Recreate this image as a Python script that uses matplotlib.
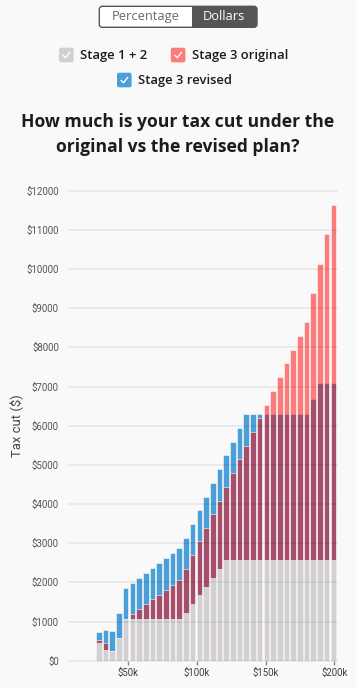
import matplotlib
matplotlib.use("Agg")
import matplotlib.pyplot as plt
from matplotlib.patches import FancyBboxPatch, Rectangle
import numpy as np

# ---------------- data ----------------
incomes_k = [25, 30, 35, 40, 45, 50, 55, 60, 65, 70, 75, 80, 85, 90, 95, 100,
             105, 110, 115, 120, 125, 130, 135, 140, 145, 150, 155, 160, 165,
             170, 175, 180, 185, 190, 195, 200]
stage12 = [460, 273, 247, 571, 1064, 1064, 1064, 1064, 1064, 1064, 1064, 1064,
           1064, 1210, 1447, 1670, 1882, 2111, 2333, 2565, 2565, 2565, 2565,
           2565, 2565, 2565, 2565, 2565, 2565, 2565, 2565, 2565, 2565, 2565,
           2565, 2565]
stage3_original = [528, 452, 247, 571, 1064, 1189, 1314, 1439, 1564, 1689, 1814,
                   1939, 2064, 2335, 2697, 3045, 3382, 3736, 4083, 4440, 4790,
                   5140, 5490, 5840, 6190, 6540, 6890, 7240, 7590, 7940, 8290,
                   8640, 9390, 10140, 10890, 11640]
stage3_revised = [730, 791, 758, 1217, 1868, 1993, 2118, 2243, 2368, 2493, 2618,
                  2743, 2868, 3139, 3501, 3849, 4186, 4540, 4887, 5244, 5594,
                  5944, 6294, 6294, 6294, 6294, 6294, 6294, 6294, 6294, 6294,
                  6294, 6694, 7094, 7094, 7094]
y_ticks = [0, 1000, 2000, 3000, 4000, 5000, 6000, 7000, 8000, 9000, 10000, 11000, 12000]
y_tick_labels = ["$0", "$1000", "$2000", "$3000", "$4000", "$5000", "$6000",
                 "$7000", "$8000", "$9000", "$10000", "$11000", "$12000"]
x_ticks_k = [50, 100, 150, 200]
x_tick_labels = ["$50k", "$100k", "$150k", "$200k"]
legend_labels = ["Stage 1 + 2", "Stage 3 original", "Stage 3 revised"]
toggle_labels = ["Percentage", "Dollars"]
title_lines = ["How much is your tax cut under the", "original vs the revised plan?"]
y_label = "Tax cut ($)"

# ---------------- style ----------------
W, H, DPI = 356, 688, 100
BG = "#f9f9f9"
GREY = "#d1d1d4"
RED = (1.0, 0.0, 0.0, 0.5)
BLUE = "#4a9fd8"
TXT = "#1c1c1c"
TICK = "#555555"
FONT = ["Open Sans", "DejaVu Sans"]
plt.rcParams["font.family"] = FONT

fig = plt.figure(figsize=(W / DPI, H / DPI), dpi=DPI, facecolor=BG)

def fx(px):
    return px / W

def fy(py):
    return 1 - py / H

# overlay axes in pixel coordinates (top-left origin)
ov = fig.add_axes([0, 0, 1, 1], zorder=0)
ov.set_xlim(0, W)
ov.set_ylim(H, 0)
ov.axis("off")
ov.patch.set_alpha(0)

# main chart axes
L, R, B, T = 69, 336.7, 660.7, 190.7
ax = fig.add_axes([fx(L), fy(B), fx(R) - fx(L), fy(T) - fy(B)], zorder=2)
ax.set_facecolor(BG)
idx = np.arange(len(incomes_k))
bw = 0.85
edge = (1, 1, 1, 0.55)
ax.bar(idx, stage3_revised, width=bw, color=BLUE, edgecolor=edge, linewidth=0.7, zorder=2)
ax.bar(idx, stage3_original, width=bw, color=RED, edgecolor=edge, linewidth=0.7, zorder=3)
ax.bar(idx, stage12, width=bw, color=GREY, edgecolor=edge, linewidth=0.7, zorder=4)
ax.set_xlim((L - 98.85) / 6.7, (R - 98.85) / 6.7)
ax.set_ylim(0, 12000)
for yv in y_ticks:
    ax.axhline(yv, color=(0, 0, 0, 0.08), lw=1.1, zorder=6, clip_on=False)
ax.set_yticks(y_ticks)
ax.set_yticklabels(y_tick_labels, fontsize=7.0, color=TICK, family=["Roboto", "DejaVu Sans"])
ax.tick_params(axis="y", length=0, pad=7.2)
ax.set_xticks([])
for s in ax.spines.values():
    s.set_visible(False)

# income axis (linear scale) for tick labels
ax2 = ax.twiny()
ax2.set_xlim((L - 58.8) / 1.378, (R - 58.8) / 1.378)
ax2.xaxis.set_ticks_position("bottom")
ax2.xaxis.set_label_position("bottom")
ax2.set_xticks(x_ticks_k)
ax2.set_xticklabels(x_tick_labels, fontsize=6.9, color="#3a3f4a", family=["Roboto", "DejaVu Sans"])
ax2.tick_params(axis="x", length=3.2, width=1, color="#888888", pad=2.2)
for s in ax2.spines.values():
    s.set_visible(False)

fig.text(fx(16), fy(426), y_label, rotation=90, ha="center", va="center",
         fontsize=9.4, color="#444444", family=["Roboto", "DejaVu Sans"])

# ---------------- toggle ----------------
tx0, tx1, ty0, ty1, tdiv = 99.3, 257, 6.3, 27.3, 191.7
outer = FancyBboxPatch((tx0, ty0), tx1 - tx0, ty1 - ty0,
                       boxstyle="round,pad=0,rounding_size=3",
                       facecolor="white", edgecolor="none")
ov.add_patch(outer)
dark = Rectangle((tdiv, ty0), tx1 - tdiv, ty1 - ty0, facecolor="#555555", edgecolor="none")
ov.add_patch(dark)
dark.set_clip_path(outer)
ov.add_patch(FancyBboxPatch((tx0, ty0), tx1 - tx0, ty1 - ty0,
                            boxstyle="round,pad=0,rounding_size=3",
                            facecolor="none", edgecolor="#555555", lw=1.0))
ov.text((tx0 + tdiv) / 2, 16.8, toggle_labels[0], ha="center", va="center",
        fontsize=9.3, color="#6a6a6a")
ov.text((tdiv + tx1) / 2, 16.8, toggle_labels[1], ha="center", va="center",
        fontsize=9.3, color="white")

# ---------------- legend checkboxes ----------------
def checkbox(x, y, color, label):
    s = 14.6
    ov.add_patch(FancyBboxPatch((x, y), s, s, boxstyle="round,pad=0,rounding_size=2",
                                facecolor=color, edgecolor="none"))
    ov.plot([x + 4.0, x + 6.6, x + 10.8], [y + 7.6, y + 10.0, y + 4.6],
            color="white", lw=1.0, solid_capstyle="round")
    ov.text(x + s + 6.5, y + s / 2 + 0.3, label, ha="left", va="center",
            fontsize=9.4, color=TXT, fontweight="semibold")

checkbox(59, 47.7, "#d0d0d3", legend_labels[0])
checkbox(170.8, 47.7, "#ff7b7b", legend_labels[1])
checkbox(117, 72.7, BLUE, legend_labels[2])

# ---------------- title ----------------
ov.text(178, 122, title_lines[0], ha="center", va="center", fontsize=12.6,
        fontweight="bold", color=TXT)
ov.text(178, 147, title_lines[1], ha="center", va="center", fontsize=12.6,
        fontweight="bold", color=TXT)

fig.savefig("out.png", dpi=DPI, facecolor=BG)
